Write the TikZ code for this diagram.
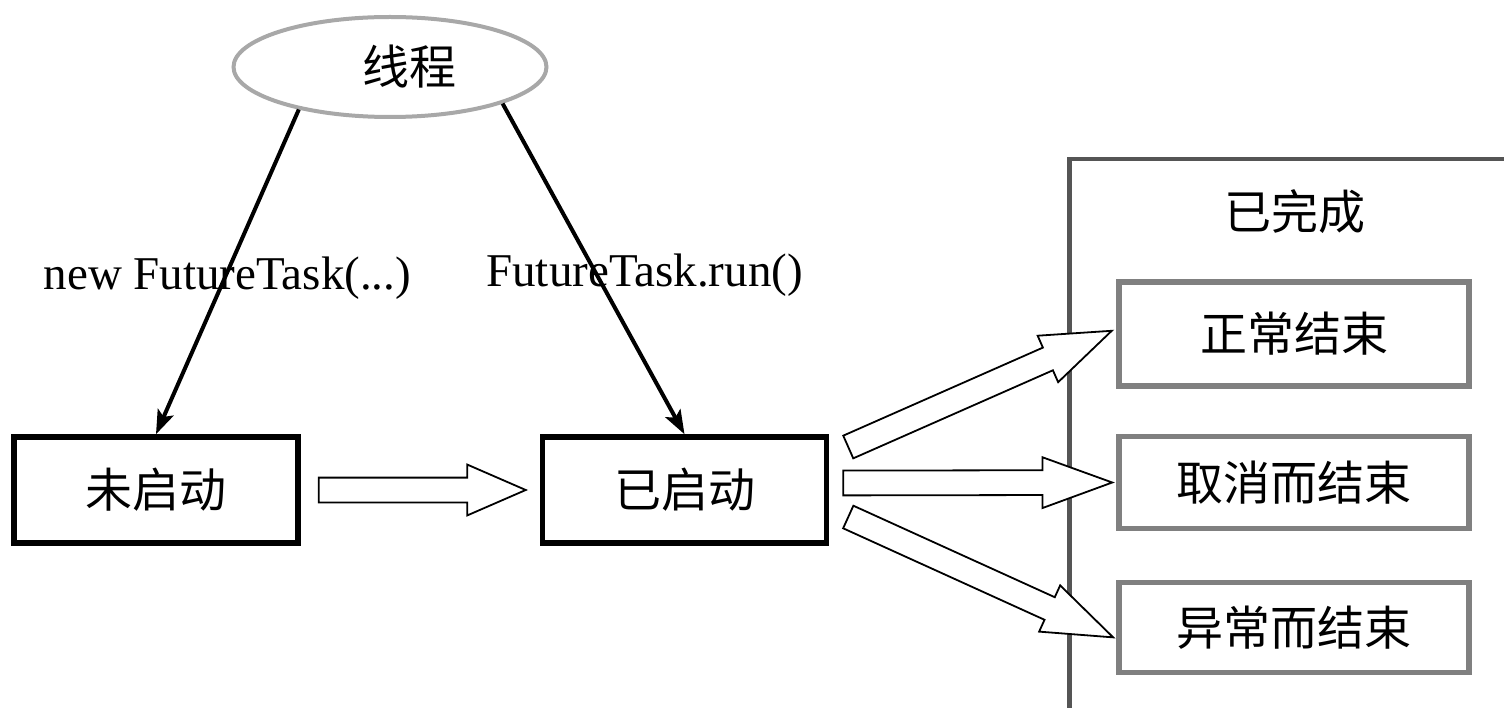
\documentclass[tikz,border=0pt]{standalone}
\usepackage{fontspec}
\setmainfont{Liberation Serif}
\newfontfamily\cjk{Noto Sans CJK SC}
\usetikzlibrary{shapes.geometric,shapes.arrows,arrows.meta,calc}

\definecolor{ovalgray}{HTML}{A8A8A8}
\definecolor{framegray}{HTML}{555555}
\definecolor{boxgray}{HTML}{808080}

\tikzset{
    state/.style={draw, line width=5.5pt, minimum width=284pt, minimum height=106pt, inner sep=0pt, font=\cjk\fontsize{47}{50}\selectfont},
    endbox/.style={draw=boxgray, line width=5.5pt, minimum width=350pt, inner sep=0pt, font=\cjk\fontsize{47}{50}\selectfont},
    hollow/.style={single arrow, draw, line width=1.8pt, fill=white, inner xsep=0pt, inner ysep=11.5pt, outer sep=0pt,
        single arrow head extend=13pt, single arrow tip angle=40, sloped, anchor=tail, pos=0},
    thin/.style={line width=4pt, -{Stealth[length=24pt, width=17pt, inset=5pt]}},
    lbl/.style={font=\fontsize{47}{50}\selectfont, yshift=-6pt}
}

\begin{document}
\begin{tikzpicture}[x=1pt, y=-1pt]

    \clip (0,0) rectangle (1504,708);

    % Thread
    \node[ellipse, draw=ovalgray, line width=4pt, minimum width=313pt, minimum height=100pt,
          label={[xshift=19pt, font=\cjk\fontsize{47}{50}\selectfont]center:线程}] (thread) at (390,67) {};

    % States
    \node[state] (notstarted) at (156,490) {未启动};
    \node[state] (started) at (684.5,490) {已启动};

    % Completed frame
    \node[draw=framegray, line width=4.5pt, minimum width=480pt, minimum height=580pt,
          anchor=north west, inner sep=0pt] (done) at (1067,157) {};
    \node[font=\cjk\fontsize{47}{50}\selectfont] (donelbl) at (1295,212) {已完成};

    \node[endbox, minimum height=104pt] (normal) at (1294,334) {正常结束};
    \node[endbox, minimum height=92pt] (cancel) at (1294,482.5) {取消而结束};
    \node[endbox, minimum height=90pt] (failed) at (1294,627.5) {异常而结束};

    % Thread arrows
    \draw[thin] (thread.205) -- node[lbl, pos=0.5] (newlbl) {new FutureTask(...)} (notstarted.north);
    \draw[thin] (thread.-18) -- node[lbl, pos=0.5, xshift=51pt] (runlbl) {FutureTask.run()} (started.north);

    % Hollow arrows
    \coordinate (a0) at ($(notstarted.east)+(18,0)$);
    \coordinate (b0) at ($(started.west)+(-16,0)$);
    \path (a0) -- node[hollow, minimum height=207pt, single arrow tip angle=47] (go) {} (b0);

    \foreach \tgt/\dx/\dy/\dz/\len in {normal/19/-43/-3/288, cancel/14/-7/0/269, failed/19/27/9/291} {
        \coordinate (s-\tgt) at ($(started.east)+(\dx,\dy)$);
        \coordinate (t-\tgt) at ($(\tgt.west)+(-5,\dz)$);
        \path (s-\tgt) -- node[hollow, minimum height=\len pt] (to-\tgt) {} (t-\tgt);
    }

\end{tikzpicture}
\end{document}
